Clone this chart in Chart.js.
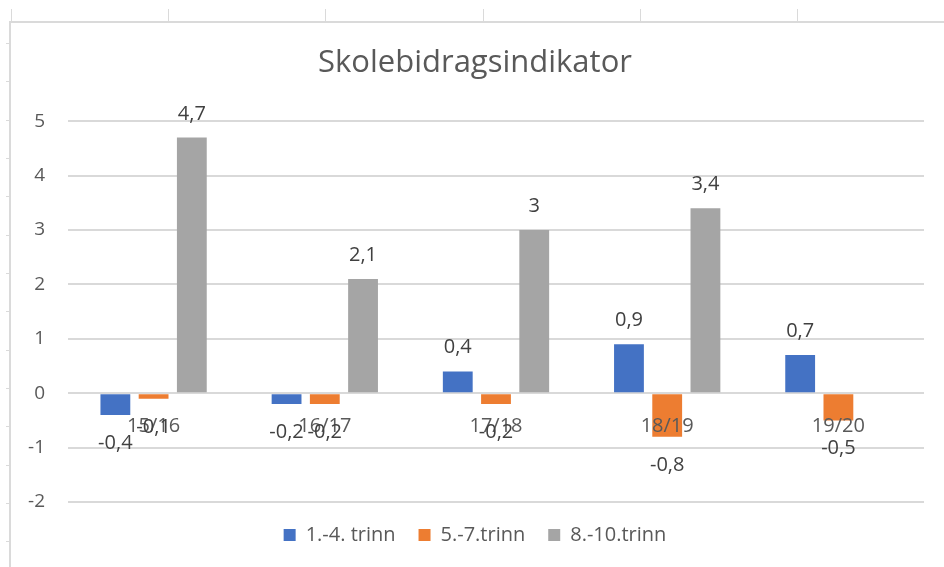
<!DOCTYPE html>
<html>
<head>
<meta charset="utf-8">
<script src="https://cdn.jsdelivr.net/npm/chart.js@4.4.1/dist/chart.umd.min.js"></script>
<style>
  html, body { margin: 0; padding: 0; background: #fff; }
  #wrap { position: relative; width: 944px; height: 567px; overflow: hidden; }
  #chart { position: absolute; left: 26px; top: 0; }
  .sheet { position: absolute; background: #dadada; }
</style>
</head>
<body>
<div id="wrap"><canvas id="chart" width="918" height="567"></canvas></div>
<script>
/* =========================
   DATA
========================= */
const categories = ["15/16", "16/17", "17/18", "18/19", "19/20"];
const seriesNames = ["1.-4. trinn", "5.-7.trinn", "8.-10.trinn"];
const trinn1to4 = [-0.4, -0.2, 0.4, 0.9, 0.7];
const trinn5to7 = [-0.1, -0.2, -0.2, -0.8, -0.5];
const trinn8to10 = [4.7, 2.1, 3, 3.4, null];
const yTicks = [-2, -1, 0, 1, 2, 3, 4, 5];

const seriesColors = ["#4472C4", "#ED7D31", "#A5A5A5"];
const FONT = "'Open Sans', 'Noto Sans', sans-serif";

/* =========================
   SPREADSHEET LINES (background)
========================= */
function addSheetLine(x, y, w, h) {
  const d = document.createElement("div");
  d.className = "sheet";
  d.style.left = x + "px";
  d.style.top = y + "px";
  d.style.width = w + "px";
  d.style.height = h + "px";
  document.getElementById("wrap").appendChild(d);
}

function drawSheet() {
  addSheetLine(9, 21, 935, 2);
  addSheetLine(9, 21, 2, 546);
  for (let i = 0; i < 6; i++) {
    addSheetLine(Math.round(11 + i * 157.2), 9, 1, 12);
  }
  for (let i = 0; i < 14; i++) {
    addSheetLine(6, Math.round(43 + i * 38.33), 3, 1);
  }
}

/* =========================
   DATA LABELS
========================= */
const dataLabels = {
  id: "dataLabels",
  afterDraw(chart) {
    const ctx = chart.ctx;
    ctx.save();
    ctx.font = "20px " + FONT;
    ctx.fillStyle = "#404040";
    ctx.textAlign = "center";
    ctx.textBaseline = "alphabetic";

    chart.data.datasets.forEach((ds, i) => {
      const meta = chart.getDatasetMeta(i);
      meta.data.forEach((bar, j) => {
        const v = ds.data[j];
        if (v === null) return;
        const text = String(v).replace(".", ",");
        if (v >= 0) {
          ctx.fillText(text, bar.x, bar.y - 18);
        } else {
          ctx.fillText(text, bar.x, bar.y + 34);
        }
      });
    });
    ctx.restore();
  }
};

/* =========================
   CHART
========================= */
function drawChart() {
  const ctx = document.getElementById("chart");
  const values = [trinn1to4, trinn5to7, trinn8to10];

  Chart.defaults.font.family = FONT;
  Chart.defaults.color = "#595959";

  new Chart(ctx, {
    type: "bar",
    data: {
      labels: categories,
      datasets: seriesNames.map((name, i) => ({
        label: name,
        data: values[i],
        backgroundColor: seriesColors[i],
        borderWidth: 0,
        categoryPercentage: 0.67,
        barPercentage: 0.78
      }))
    },
    options: {
      responsive: false,
      animation: false,
      devicePixelRatio: 1,
      layout: {
        padding: { left: 0, right: 20, top: 0, bottom: 12 }
      },
      plugins: {
        title: {
          display: true,
          text: "Skolebidragsindikator",
          color: "#595959",
          font: { size: 31, weight: "normal", lineHeight: 1.2 },
          padding: { top: 45, bottom: 39 }
        },
        legend: {
          position: "bottom",
          labels: {
            boxWidth: 12,
            boxHeight: 12,
            padding: 23,
            color: "#595959",
            font: { size: 20 }
          }
        },
        tooltip: { enabled: false }
      },
      scales: {
        x: {
          position: { y: 0 },
          grid: { display: false },
          border: { display: false },
          ticks: {
            z: 1,
            color: "#595959",
            font: { size: 20 },
            padding: 13,
            maxRotation: 0
          }
        },
        y: {
          min: -2,
          max: 5,
          afterBuildTicks: s => {
            s.ticks = yTicks.map(v => ({ value: v }));
          },
          afterFit: s => {
            s.width = 42;
          },
          grid: {
            color: "#d9d9d9",
            lineWidth: 2,
            drawTicks: false
          },
          border: { display: false },
          ticks: {
            color: "#595959",
            font: { size: 19 },
            padding: 23
          }
        }
      }
    },
    plugins: [dataLabels]
  });
}

document.addEventListener("DOMContentLoaded", () => {
  drawChart();
  drawSheet();
});
</script>
</body>
</html>
